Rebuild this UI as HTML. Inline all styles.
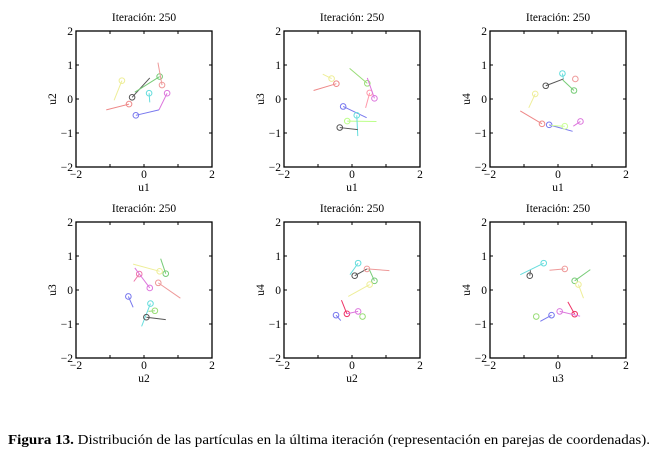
<!DOCTYPE html>
<html><head><meta charset="utf-8"><style>
body{margin:0;background:#fff;width:659px;height:461px;overflow:hidden}
svg{display:block;font-family:"Liberation Serif",serif}
</style></head><body>
<svg id="fig" width="659" height="461" viewBox="0 0 659 461">
<text x="8" y="444" font-size="13.2" textLength="642" lengthAdjust="spacingAndGlyphs"><tspan font-weight="bold">Figura 13.</tspan> Distribución de las partículas en la última iteración (representación en parejas de coordenadas).</text>
</svg>
<script>
const panelTitles=["Iteración: 250","Iteración: 250","Iteración: 250","Iteración: 250","Iteración: 250","Iteración: 250"];
const xLabels=["u1","u1","u1","u2","u2","u3"];
const yLabels=["u2","u3","u4","u3","u4","u4"];
const tickValues=[-2,0,2];
const minorTicks=[-1,1];
const colors1=["#555","#7c7","#e99","#6dd","#d7d","#77e","#e88","#ee9"];
const px1=[-0.35,0.46,0.53,0.15,0.68,-0.24,-0.44,-0.65];
const py1=[0.05,0.66,0.41,0.17,0.17,-0.48,-0.15,0.54];
const tx1=[0.17,-0.27,0.41,0.17,0.44,0.44,-1.11,-0.88];
const ty1=[0.62,0.2,1.07,-0.1,-0.32,-0.32,-0.32,-0.04];
const colors2=["#e88","#ee9","#9d7","#f9a","#d7d","#77e","#bf8","#6dd","#555"];
const px2=[-0.46,-0.6,0.45,0.52,0.66,-0.26,-0.14,0.14,-0.36];
const py2=[0.45,0.6,0.46,0.18,0.02,-0.22,-0.65,-0.48,-0.84];
const tx2=[-1.13,-0.86,-0.07,0.4,0.45,0.43,0.72,0.17,0.17];
const ty2=[0.25,0.73,0.9,-0.26,0.62,-0.55,-0.66,-1.09,-0.9];
const colors3=["#6dd","#555","#7c7","#e99","#ee9","#e88","#77e","#d7d","#cf9"];
const px3=[0.13,-0.36,0.47,0.51,-0.67,-0.47,-0.26,0.66,0.2];
const py3=[0.75,0.39,0.25,0.59,0.15,-0.73,-0.76,-0.66,-0.8];
const tx3=[0.16,0.16,0.14,0.51,-0.86,-1.11,0.43,0.45,-0.2];
const ty3=[0.59,0.59,0.56,0.59,-0.26,-0.35,-0.95,-0.8,-0.78];
const colors4=["#7c7","#ee9","#e7a","#d7d","#e99","#77e","#6dd","#9d7","#555"];
const px4=[0.64,0.46,-0.14,0.17,0.42,-0.46,0.19,0.32,0.07];
const py4=[0.48,0.55,0.47,0.06,0.21,-0.19,-0.4,-0.61,-0.8];
const tx4=[0.49,-0.32,-0.3,-0.27,1.07,-0.32,-0.07,0.13,0.64];
const ty4=[0.92,0.76,0.25,0.65,-0.24,-0.51,-1.07,-0.63,-0.87];
const colors5=["#6dd","#555","#e99","#7c7","#ee9","#e36","#d7d","#9d7","#77e"];
const px5=[0.18,0.08,0.44,0.66,0.52,-0.15,0.18,0.31,-0.47];
const py5=[0.79,0.42,0.62,0.27,0.16,-0.7,-0.63,-0.78,-0.74];
const tx5=[-0.06,0.44,1.1,0.51,-0.11,-0.31,-0.15,0.31,-0.33];
const ty5=[0.45,0.62,0.57,0.6,-0.19,-0.3,-0.7,-0.78,-0.9];
const colors6=["#6dd","#555","#e99","#7c7","#ee9","#e36","#d7d","#77e","#9d7"];
const px6=[-0.42,-0.83,0.2,0.49,0.6,0.49,0.05,-0.19,-0.64];
const py6=[0.79,0.42,0.62,0.27,0.16,-0.71,-0.63,-0.74,-0.78];
const tx6=[-1.11,-0.81,-0.25,0.95,0.75,0.29,0.65,-0.52,-0.64];
const ty6=[0.45,0.58,0.58,0.6,-0.24,-0.35,-0.77,-0.92,-0.78];
const panelsData=[[colors1,px1,py1,tx1,ty1],[colors2,px2,py2,tx2,ty2],[colors3,px3,py3,tx3,ty3],[colors4,px4,py4,tx4,ty4],[colors5,px5,py5,tx5,ty5],[colors6,px6,py6,tx6,ty6]];
const NS="http://www.w3.org/2000/svg";
const svg=document.getElementById('fig');
const lefts=[76,284,490],tops=[31,222],W=136,H=136;
function mk(tag,attrs,parent){const e=document.createElementNS(NS,tag);for(const k in attrs)e.setAttribute(k,attrs[k]);parent.appendChild(e);return e;}
panelsData.forEach((pd,i)=>{
  const L=lefts[i%3],T=tops[Math.floor(i/3)];
  const sx=v=>L+(v+2)/4*W, sy=v=>T+H-(v+2)/4*H;
  const g=mk('g',{},svg);
  
  
  const box=mk('rect',{x:L,y:T,width:W,height:H,fill:'none',stroke:'#000','stroke-width':1.3},g);
  
  
  const t=mk('text',{x:L+W/2,y:T-10,'font-size':11.5,'text-anchor':'middle'},g);t.textContent=panelTitles[i];
  
  
  const xl=mk('text',{x:L+W/2,y:T+H+24,'font-size':11.5,'text-anchor':'middle'},g);xl.textContent=xLabels[i];
  
  
  const yl=mk('text',{x:0,y:0,'font-size':11.5,'text-anchor':'middle',transform:`translate(${L-20},${T+H/2}) rotate(-90)`},g);yl.textContent=yLabels[i];
  
  
  tickValues.concat(minorTicks).forEach(v=>{
    mk('line',{x1:sx(v),x2:sx(v),y1:T+H,y2:T+H-3,stroke:'#000'},g);
    mk('line',{x1:sx(v),x2:sx(v),y1:T,y2:T+3,stroke:'#000'},g);
    mk('line',{x1:L,x2:L+3,y1:sy(v),y2:sy(v),stroke:'#000'},g);
    mk('line',{x1:L+W,x2:L+W-3,y1:sy(v),y2:sy(v),stroke:'#000'},g);
  });
  tickValues.forEach(v=>{
    const a=mk('text',{x:sx(v),y:T+H+11,'font-size':11.5,'text-anchor':'middle'},g);a.textContent=v<0?'\u2212'+(-v):v;
    
    
  });
  tickValues.concat(minorTicks).forEach(v=>{
    const a=mk('text',{x:L-3,y:sy(v)+4,'font-size':11.5,'text-anchor':'end'},g);a.textContent=v<0?'\u2212'+(-v):v;
    
    
  });
  const [cs,px,py,tx,ty]=pd;
  px.forEach((x,j)=>{
    const ln=mk('line',{x1:sx(x),y1:sy(py[j]),x2:sx(tx[j]),y2:sy(ty[j]),stroke:cs[j],'stroke-width':1},g);
    
    
    const c=mk('circle',{cx:sx(x),cy:sy(py[j]),r:2.8,fill:'none',stroke:cs[j],'stroke-width':1},g);
    
    
  });
});
</script>
</body></html>
